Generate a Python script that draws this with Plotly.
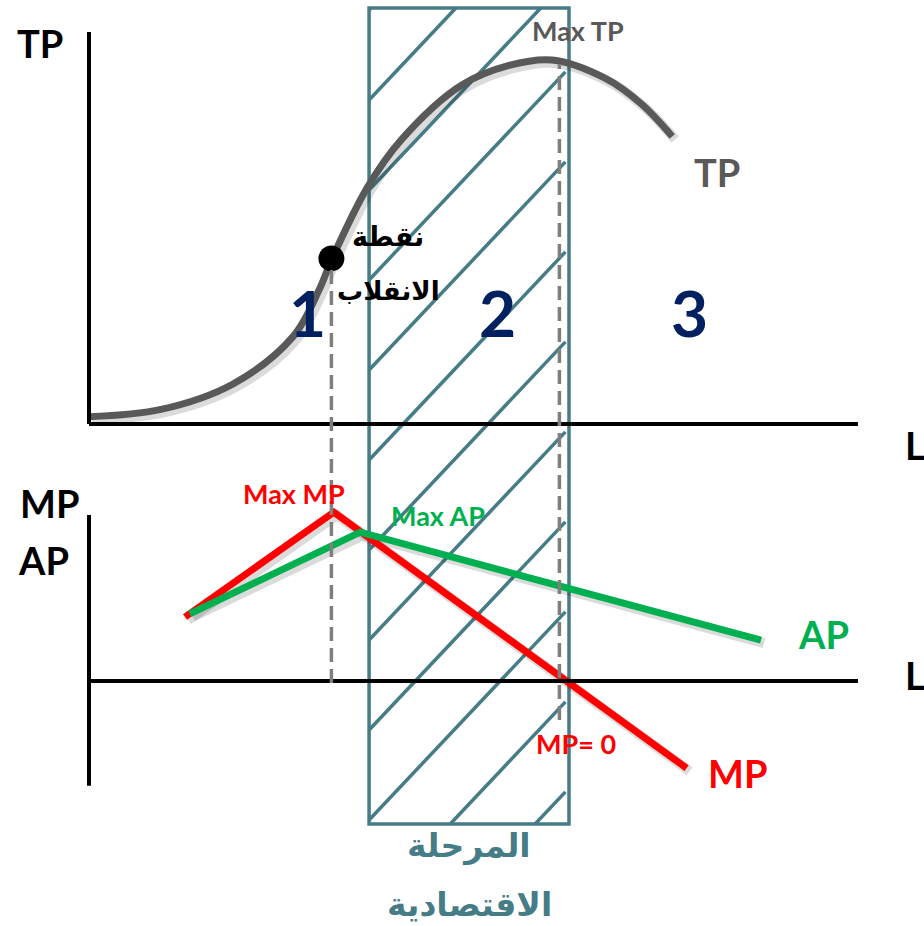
import plotly.graph_objects as go

# Total product curve (labour units, output)
labour_tp = [0, 3, 6, 8.5, 9.6, 10.1, 11.6, 13, 15.5, 17.5, 19.3, 21.5, 23, 24.3]
total_product = [2, 4, 11, 24, 37, 45, 65, 78, 93, 98.5, 100, 95, 88, 79]

# Marginal and average product (lower panel)
labour_mp = [4.0, 10.2, 24.9]
marginal_product = [8.0, 21.1, -10.9]
labour_ap = [4.2, 11.3, 28.0]
average_product = [8.4, 18.6, 5.1]

inflection_l, inflection_tp = 10.1, 45.5
max_tp_l = 19.6
stage_names = ['1', '2', '3']
stage_l = [9.1, 17.0, 25.0]
econ_stage = [11.67, 20.0]          # the hatched "economic stage"

W, H = 924, 926
PX_L, ORIGIN_X = 24, 89             # px per labour unit, x of the axes
PX_TP, TP_ZERO = 3.64, 424           # px per TP unit, y of top L axis
PX_MP, MP_ZERO = 8, 681              # px per MP unit, y of bottom L axis

TEAL = '#467c86'
RED = '#ff0000'
GREEN = '#00b050'
GREY = '#595959'
NAVY = '#002060'
LATIN = 'Lato, Open Sans, sans-serif'
ARABIC = 'DejaVu Sans, sans-serif'


def pv(py):
    # pixel row -> paper y
    return 1 - py / H


fig = go.Figure()

# shadows under the thick lines
sh_x = 3 / PX_L
fig.add_trace(go.Scatter(x=[v + sh_x for v in labour_tp], y=[v - 3 / PX_TP for v in total_product],
                         mode='lines', line=dict(color='rgba(0,0,0,0.14)', width=10, shape='spline'),
                         hoverinfo='skip'))
fig.add_trace(go.Scatter(x=[v + sh_x for v in labour_mp], y=[v - 3 / PX_MP for v in marginal_product],
                         yaxis='y2', mode='lines', line=dict(color='rgba(0,0,0,0.14)', width=10),
                         hoverinfo='skip'))
fig.add_trace(go.Scatter(x=[v + sh_x for v in labour_ap], y=[v - 3 / PX_MP for v in average_product],
                         yaxis='y2', mode='lines', line=dict(color='rgba(0,0,0,0.14)', width=10),
                         hoverinfo='skip'))

fig.add_trace(go.Scatter(x=labour_tp, y=total_product, mode='lines', name='TP',
                         line=dict(color=GREY, width=7, shape='spline', smoothing=1.0)))
fig.add_trace(go.Scatter(x=[inflection_l], y=[inflection_tp], mode='markers',
                         marker=dict(color='black', size=26)))
fig.add_trace(go.Scatter(x=labour_mp, y=marginal_product, yaxis='y2', mode='lines', name='MP',
                         line=dict(color=RED, width=7)))
fig.add_trace(go.Scatter(x=labour_ap, y=average_product, yaxis='y2', mode='lines', name='AP',
                         line=dict(color=GREEN, width=7)))

shapes = []
# hatched rectangle
x0, x1 = econ_stage
ytop, ybot = pv(8), pv(824)
shapes.append(dict(type='rect', xref='x', yref='paper', x0=x0, x1=x1, y0=ybot, y1=ytop,
                   line=dict(color=TEAL, width=3.5), layer='below'))
slope = 1.06 * PX_L / H             # paper units per labour unit
gap = 90 / H
start = pv(100)
for k in range(-1, 12):
    ya = start - k * gap
    xa, xb = x0, x1 - 0.15
    yb = ya + slope * (xb - xa)
    if ya < ybot:
        xa = xa + (ybot - ya) / slope
        ya = ybot
    if yb > ytop:
        xb = xb - (yb - ytop) / slope
        yb = ytop
    if xb <= xa:
        continue
    shapes.append(dict(type='line', xref='x', yref='paper', x0=xa, x1=xb, y0=ya, y1=yb,
                       line=dict(color=TEAL, width=3.5), layer='below'))

# axes
shapes += [
    dict(type='line', xref='x', yref='y', x0=0, x1=0, y0=0, y1=107.7, line=dict(color='black', width=4)),
    dict(type='line', xref='x', yref='y', x0=0, x1=32.04, y0=0, y1=0, line=dict(color='black', width=4)),
    dict(type='line', xref='x', yref='y2', x0=0, x1=0, y0=-13.1, y1=20.75, line=dict(color='black', width=4)),
    dict(type='line', xref='x', yref='y2', x0=0, x1=32.04, y0=0, y1=0, line=dict(color='black', width=4)),
]
# dashed guides
shapes += [
    dict(type='line', xref='x', yref='paper', x0=inflection_l, x1=inflection_l, y0=pv(683), y1=pv(266),
         line=dict(color='#7f7f7f', width=3.5, dash='14px,7px')),
    dict(type='line', xref='x', yref='paper', x0=max_tp_l, x1=max_tp_l, y0=pv(720), y1=pv(64),
         line=dict(color='#7f7f7f', width=3.5, dash='14px,7px')),
]


def label(text, x, y, size, color, yref='y', font=LATIN, xanchor='center'):
    return dict(text=text, x=x, y=y, xref='x', yref=yref, showarrow=False, xanchor=xanchor,
                font=dict(family=font, size=size, color=color))


annotations = [
    label('<b>TP</b>', -2.04, 104.7, 38, 'black'),
    label('<b>Max TP</b>', 20.38, 108.2, 27, GREY),
    label('<b>TP</b>', 26.17, 69.2, 38, GREY),
    label('<b>نقطة</b>', 12.46, 51.6, 27, 'black', font=ARABIC),
    label('<b>الانقلاب</b>', 12.46, 36.6, 26, 'black', font=ARABIC),
    label('<b>L</b>', 33.9, -5.8, 38, 'black', xanchor='left'),
    label('<b>MP</b>', -1.63, 22.25, 38, 'black', yref='y2'),
    label('<b>AP</b>', -1.88, 15.1, 38, 'black', yref='y2'),
    label('<b>Max MP</b>', 8.54, 23.4, 27, RED, yref='y2'),
    label('<b>Max AP</b>', 14.54, 20.75, 27, GREEN, yref='y2'),
    label('<b>AP</b>', 30.6, 5.9, 38, GREEN, yref='y2'),
    label('<b>L</b>', 33.9, 0.75, 38, 'black', yref='y2', xanchor='left'),
    label('<b>MP= 0</b>', 20.3, -7.75, 27, RED, yref='y2'),
    label('<b>MP</b>', 27.04, -11.5, 38, RED, yref='y2'),
    label('<b>المرحلة</b>', (x0 + x1) / 2, pv(868), 33, TEAL, yref='paper', font=ARABIC),
    label('<b>الاقتصادية</b>', (x0 + x1) / 2, pv(918), 33, TEAL, yref='paper', font=ARABIC,
          ),
]
annotations[-1]['yanchor'] = 'bottom'
annotations[-1]['y'] = pv(926)
for name, lx in zip(stage_names, stage_l):
    annotations.append(label(f'<b>{name}</b>', lx, 30.5, 64, NAVY))

fig.update_layout(
    width=W, height=H,
    margin=dict(l=0, r=0, t=0, b=0),
    plot_bgcolor='white', paper_bgcolor='white',
    showlegend=False,
    xaxis=dict(range=[-ORIGIN_X / PX_L, (W - ORIGIN_X) / PX_L], visible=False),
    yaxis=dict(range=[(TP_ZERO - H) / PX_TP, TP_ZERO / PX_TP], visible=False),
    yaxis2=dict(range=[(MP_ZERO - H) / PX_MP, MP_ZERO / PX_MP], visible=False, overlaying='y'),
    shapes=shapes,
    annotations=annotations,
)

fig.write_html("out.html", config={'displayModeBar': False},
               post_script="document.body.style.margin='0';")
